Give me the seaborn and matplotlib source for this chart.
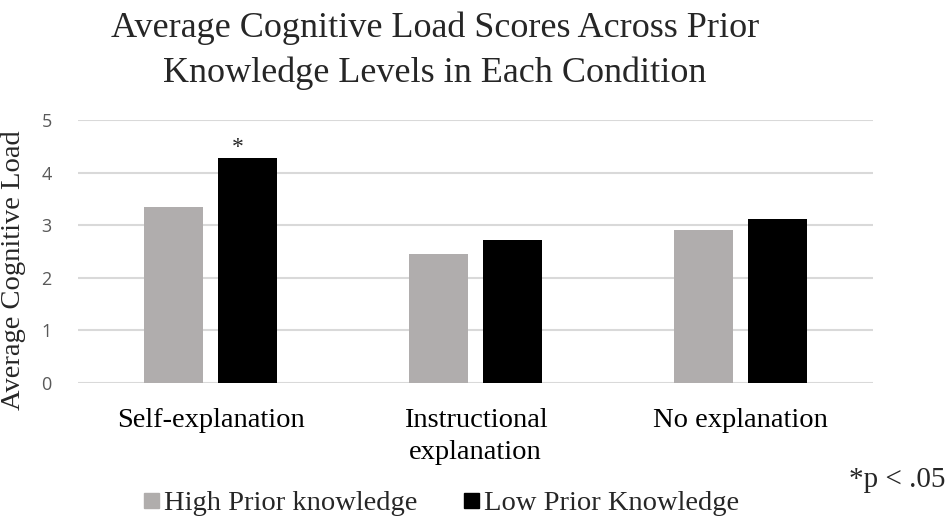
import matplotlib
matplotlib.use("Agg")
import matplotlib.pyplot as plt
import matplotlib.transforms as mtransforms
import seaborn as sns
import pandas as pd
from matplotlib.lines import Line2D

categories = ["Self-explanation", "Instructional\nexplanation", "No explanation"]
series_names = ["High Prior knowledge", "Low Prior Knowledge"]
high_vals = [3.35, 2.45, 2.90]
low_vals = [4.28, 2.71, 3.12]
yticks = [0, 1, 2, 3, 4, 5]
colors = ["#b0adac", "#000000"]

df = pd.DataFrame({
    "Condition": categories * 2,
    "Group": [series_names[0]] * 3 + [series_names[1]] * 3,
    "Value": high_vals + low_vals,
})

sns.set_style("white")
serif = ["Liberation Serif", "DejaVu Serif"]

fig = plt.figure(figsize=(9.5, 5.21), dpi=100)
ax = fig.add_axes([0.0821, 0.2649, 0.8369, 0.5048])

sns.barplot(data=df, x="Condition", y="Value", hue="Group", hue_order=series_names,
            palette=colors, width=0.56, gap=0.2, ax=ax, legend=False,
            errorbar=None, edgecolor="none", zorder=3)

ax.set_ylim(0, 5)
ax.set_xlim(-0.5, 2.5)
ax.set_yticks(yticks)
ax.set_yticklabels([str(t) for t in yticks], fontfamily="Open Sans", fontsize=13, color="#595959")
ax.yaxis.grid(True, color="#d9d9d9", linewidth=1.5, zorder=0)
ax.set_axisbelow(True)
for s in ax.spines.values():
    s.set_visible(False)
ax.tick_params(axis="x", length=0, pad=18)
ax.tick_params(axis="y", length=0, pad=19)
ax.set_xticks(range(len(categories)))
ax.set_xticklabels(categories, fontfamily=serif, fontsize=20.5, color="#000000", linespacing=1.36)
ax.set_xlabel("")
ax.set_ylabel("Average Cognitive Load", fontfamily=serif, fontsize=20.5)
ax.yaxis.set_label_coords(-0.065, 0.43)

# significance marker above low-prior self-explanation bar
low_bar = ax.patches[3]
off = mtransforms.offset_copy(ax.transData, fig=fig, x=-10, y=0, units="dots")
ax.text(low_bar.get_x() + low_bar.get_width() / 2, low_vals[0] + 0.2, "*",
        ha="center", va="center", fontsize=17, fontfamily=serif, transform=off)

fig.text(0.458, 0.902, "Average Cognitive Load Scores Across Prior\nKnowledge Levels in Each Condition",
         ha="center", va="center", fontfamily=serif, fontsize=26, linespacing=1.45)

fig.text(0.995, 0.079, "*p < .05", ha="right", va="center", fontfamily=serif, fontsize=21)

handles = [Line2D([0], [0], marker="s", linestyle="none", markersize=10.8,
                  markerfacecolor=c, markeredgecolor=c) for c in colors]
fig.legend(handles, series_names, loc="center", bbox_to_anchor=(0.464, 0.035), ncol=2,
           frameon=False, prop={"family": serif, "size": 20.5}, handletextpad=0.15,
           columnspacing=1.6, handlelength=0.6, borderpad=0, borderaxespad=0)

fig.savefig("out.png", dpi=100)
